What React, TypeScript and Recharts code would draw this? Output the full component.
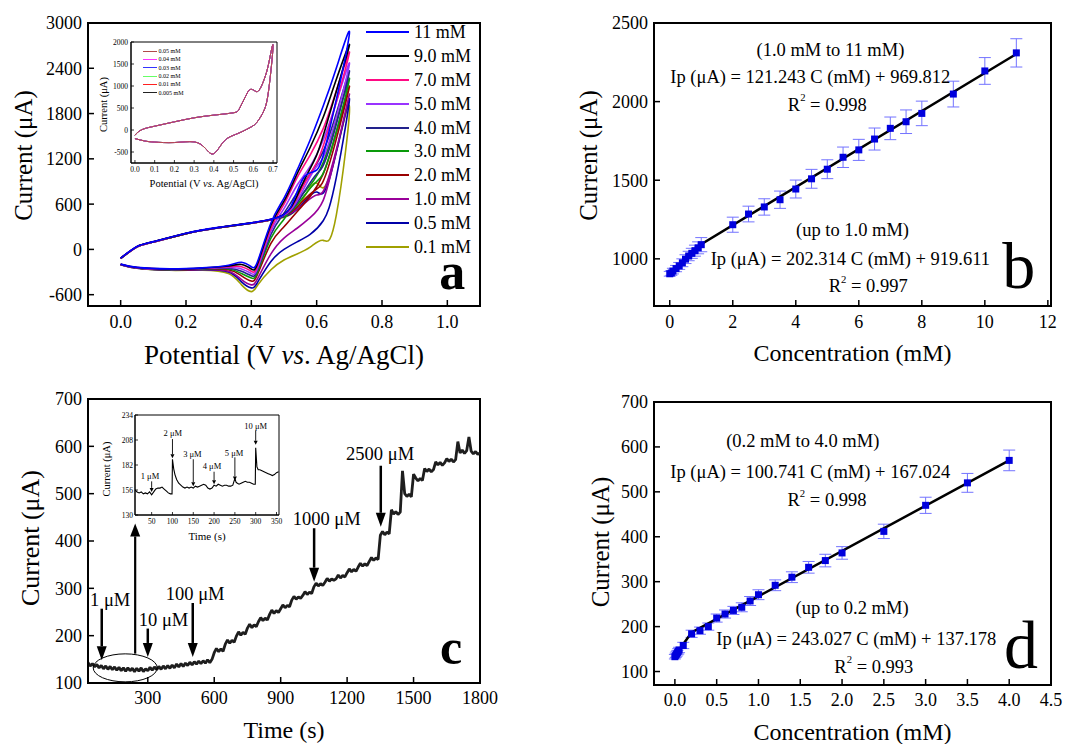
import React from 'react';
import {
  LineChart,
  ComposedChart,
  Line,
  Scatter,
  XAxis,
  YAxis,
  ErrorBar,
  ReferenceArea,
  ReferenceLine,
  ReferenceDot,
  Legend,
  Label,
} from 'recharts';

const FONT = '"Liberation Serif", "Times New Roman", Times, serif';

// ---------------- Panel a : cyclic voltammograms ----------------
const aPotential = [0, 0.05, 0.1, 0.2, 0.3, 0.4, 0.47, 0.52, 0.56, 0.6, 0.64, 0.7, 0.66, 0.62, 0.58, 0.54, 0.5, 0.46, 0.42, 0.4, 0.37, 0.33, 0.25, 0.15, 0.05, 0];
const aLabels = ['11 mM', '9.0 mM', '7.0 mM', '5.0 mM', '4.0 mM', '3.0 mM', '2.0 mM', '1.0 mM', '0.5 mM', '0.1 mM'];
const aColors = ['#0000ff', '#000000', '#ff0a84', '#9933ff', '#22228c', '#0a9a0a', '#990000', '#990099', '#0000a8', '#a0a000'];
const aCurrent11 = [-115, 38, 103, 213, 292, 352, 410, 560, 950, 1050, 1600, 2850, 2400, 1900, 1450, 1050, 680, 350, -150, -230, -170, -210, -245, -258, -238, -195];
const aCurrent9 = [-116, 37, 102, 212, 291, 351, 410, 550, 900, 1250, 1800, 2700, 2250, 1750, 1350, 1000, 640, 320, -180, -260, -200, -220, -248, -260, -240, -197];
const aCurrent7 = [-117, 36, 101, 211, 290, 350, 408, 540, 850, 1150, 1650, 2600, 2100, 1600, 1250, 950, 600, 280, -210, -290, -230, -230, -250, -262, -242, -198];
const aCurrent5 = [-118, 35, 100, 210, 289, 349, 406, 520, 800, 1100, 1450, 2450, 1950, 1450, 1100, 850, 540, 240, -240, -320, -260, -240, -252, -264, -243, -199];
const aCurrent4 = [-118, 35, 100, 210, 289, 349, 405, 510, 750, 1000, 1350, 2350, 1800, 1300, 1000, 750, 480, 200, -260, -350, -290, -250, -255, -266, -244, -200];
const aCurrent3 = [-119, 34, 99, 209, 288, 348, 404, 500, 700, 900, 1250, 2250, 1700, 1150, 850, 650, 400, 150, -290, -380, -320, -260, -258, -268, -245, -200];
const aCurrent2 = [-119, 34, 99, 209, 288, 348, 403, 490, 650, 800, 1150, 2150, 1550, 1000, 700, 500, 300, 80, -320, -420, -350, -270, -262, -270, -246, -201];
const aCurrent1 = [-120, 33, 98, 208, 287, 347, 402, 480, 600, 720, 1000, 2050, 1300, 650, 420, 280, 150, -60, -380, -470, -400, -290, -266, -272, -247, -202];
const aCurrent05 = [-120, 33, 98, 208, 287, 347, 401, 470, 620, 760, 950, 2000, 950, 380, 200, 100, 0, -160, -430, -510, -430, -300, -270, -274, -248, -202];
const aCurrent01 = [-121, 32, 97, 207, 286, 346, 400, 460, 680, 880, 980, 1900, 450, 120, 30, -60, -140, -270, -470, -560, -470, -320, -275, -277, -250, -203];
const aCurrents = [aCurrent11, aCurrent9, aCurrent7, aCurrent5, aCurrent4, aCurrent3, aCurrent2, aCurrent1, aCurrent05, aCurrent01];
const aXTicks = [0, 0.2, 0.4, 0.6, 0.8, 1.0];
const aYTicks = [-600, 0, 600, 1200, 1800, 2400, 3000];

// inset of panel a (low concentrations, curves overlap)
const aInsetPotential = [0, 0.02, 0.05, 0.1, 0.2, 0.3, 0.4, 0.5, 0.53, 0.56, 0.58, 0.6, 0.62, 0.64, 0.66, 0.68, 0.7, 0.68, 0.655, 0.62, 0.59, 0.54, 0.5, 0.46, 0.43, 0.41, 0.39, 0.37, 0.35, 0.3, 0.2, 0.1, 0.05, 0];
const aInsetCurrent = [-119, -30, 33, 87, 186, 277, 338, 392, 491, 758, 910, 910, 872, 986, 1215, 1558, 1916, 986, 453, 186, 72, -43, -119, -218, -380, -500, -545, -480, -386, -270, -285, -275, -250, -195];
const aInsetLabels = ['0.05 mM', '0.04 mM', '0.03 mM', '0.02 mM', '0.01 mM', '0.005 mM'];
const aInsetColors = ['#b04a4a', '#ff33ff', '#3333ff', '#66ff66', '#ff2020', '#222222'];
const aInsetXTicks = [0, 0.1, 0.2, 0.3, 0.4, 0.5, 0.6, 0.7];
const aInsetYTicks = [-500, 0, 500, 1000, 1500, 2000];

// ---------------- Panel b : calibration (CV) ----------------
const bConc = [0, 0.05, 0.1, 0.2, 0.3, 0.4, 0.5, 0.6, 0.7, 0.8, 0.9, 1.0, 2.0, 2.5, 3.0, 3.5, 4.0, 4.5, 5.0, 5.5, 6.0, 6.5, 7.0, 7.5, 8.0, 9.0, 10.0, 11.0];
const bCurrent = [905, 910, 922, 938, 955, 975, 998, 1018, 1035, 1052, 1070, 1090, 1217, 1285, 1330, 1376, 1444, 1509, 1570, 1646, 1693, 1762, 1830, 1872, 1925, 2048, 2195, 2310];
const bError = [15, 15, 18, 20, 22, 25, 28, 30, 32, 35, 38, 45, 48, 50, 52, 55, 57, 60, 60, 65, 67, 70, 72, 75, 78, 82, 85, 90];
const bFitConc = [0, 1.0, 11.0];
const bFitCurrent = [905, 1093, 2303];
const bXTicks = [0, 2, 4, 6, 8, 10, 12];
const bYTicks = [1000, 1500, 2000, 2500];

// ---------------- Panel c : amperometric response ----------------
const cStartTime = 30;
const cSampleStep = 10;
const cCurrent = [
  143, 136,
  141, 134, 139, 132, 137,
  130, 136, 129, 135, 128,
  134, 127, 133, 126, 132,
  125, 132, 126, 131, 124,
  131, 125, 132, 124, 130,
  126, 133, 127, 134, 128,
  135, 129, 136, 130, 137,
  131, 138, 132, 140, 134,
  141, 135, 142, 137, 144,
  138, 145, 140, 146, 141,
  147, 142, 149, 143, 150,
  164, 173, 166, 172, 167,
  182, 191, 184, 190, 186,
  199, 208, 201, 207, 203,
  216, 224, 217, 223, 219,
  230, 238, 232, 237, 233,
  245, 254, 247, 253, 249,
  257, 265, 259, 264, 261,
  275, 283, 277, 282, 279,
  285, 293, 287, 292, 289,
  303, 311, 305, 310, 306,
  313, 321, 315, 320, 317,
  320, 328, 322, 327, 324,
  333, 341, 335, 340, 336,
  345, 353, 347, 352, 348,
  357, 365, 359, 364, 361,
  412, 420, 413, 419, 415,
  466, 457, 462, 456, 461,
  548, 500, 494, 499, 493,
  541, 533, 527, 532, 528,
  553, 547, 552, 546, 551,
  567, 561, 566, 560, 565,
  574, 568, 573, 567, 572,
  610, 586, 592, 585, 591,
  620, 590, 584, 589, 583,
  586,
];
const cXTicks = [300, 600, 900, 1200, 1500, 1800];
const cYTicks = [100, 200, 300, 400, 500, 600, 700];
const cArrowLabels = ['1 μM', '10 μM', '100 μM', '1000 μM', '2500 μM'];
const cArrowTime = [92, 300, 503, 1051, 1352];
const cArrowFrom = [257, 215, 269, 427, 559];
const cArrowTo = [148, 155, 155, 314, 430];
const cLabelTime = [130, 371, 514, 1108, 1349];
const cLabelCurrent = [275, 233, 289, 446, 584];

// inset of panel c
const cInsetTime = [10, 15, 20, 25, 30, 35, 40, 45, 50, 55, 60, 65, 70, 75, 80, 85, 90, 95, 99, 100, 103, 106, 110, 115, 120, 125, 130, 135, 140, 145, 150, 155, 160, 165, 170, 175, 180, 185, 190, 195, 200, 205, 210, 215, 220, 225, 230, 235, 240, 245, 250, 253, 256, 260, 265, 270, 275, 280, 285, 290, 295, 299, 300, 303, 306, 310, 315, 320, 325, 330, 335, 340, 345, 350, 355];
const cInsetCurrent = [156, 154, 153, 154, 152, 153, 152, 154, 151, 154, 157, 158, 158, 159, 157, 155, 153, 152, 152, 188, 178, 172, 167, 163, 161, 159, 158, 159, 158, 159, 158, 160, 159, 160, 161, 162, 161, 158, 157, 158, 161, 160, 162, 161, 160, 161, 161, 160, 160, 161, 168, 164, 163, 162, 163, 164, 165, 164, 164, 163, 162, 162, 200, 180, 177, 177, 176, 175, 174, 173, 172, 171, 172, 174, 175];
const cInsetXTicks = [50, 100, 150, 200, 250, 300, 350];
const cInsetYTicks = [130, 156, 182, 208, 234];
const cInsetArrowLabels = ['1 μM', '2 μM', '3 μM', '4 μM', '5 μM', '10 μM'];
const cInsetArrowTime = [50, 100, 150, 200, 250, 300];
const cInsetArrowFrom = [165, 209, 188, 175, 190, 218];
const cInsetArrowTo = [154, 189, 160, 162, 166, 203];
const cInsetLabelTime = [46, 101, 148, 195, 248, 300];
const cInsetLabelCurrent = [171, 215, 193, 181, 195, 223];

// ---------------- Panel d : calibration (amperometry) ----------------
const dConc = [0, 0.01, 0.02, 0.03, 0.04, 0.05, 0.1, 0.2, 0.3, 0.4, 0.5, 0.6, 0.7, 0.8, 0.9, 1.0, 1.2, 1.4, 1.6, 1.8, 2.0, 2.5, 3.0, 3.5, 4.0];
const dCurrent = [133, 136, 139, 142, 145, 148, 158, 184, 191, 200, 219, 228, 236, 243, 257, 271, 292, 310, 332, 347, 364, 412, 470, 520, 570];
const dError = [5, 5, 5, 5, 6, 6, 7, 8, 8, 8, 9, 9, 9, 10, 10, 11, 12, 12, 13, 14, 14, 16, 18, 21, 23];
const dFitConc = [0, 0.2, 4.0];
const dFitCurrent = [135, 187, 570];
const dXTicks = [0, 0.5, 1.0, 1.5, 2.0, 2.5, 3.0, 3.5, 4.0, 4.5];
const dYTicks = [100, 200, 300, 400, 500, 600, 700];

// ---------------- helpers ----------------
type Seg = { t: string; it?: boolean; sup?: boolean };

const AXIS = { stroke: '#000', strokeWidth: 2 };
const TICK = { stroke: '#000', strokeWidth: 1.5 };
const tickFont = (size: number) => ({ fill: '#000', fontSize: size, fontFamily: FONT });
const fix1 = (v: number) => v.toFixed(1);

function renderSegs(segs: Seg[], size: number) {
  return segs.map((s, i) => {
    const prevSup = i > 0 && segs[i - 1].sup;
    const dy = s.sup ? -0.42 * size : prevSup ? 0.42 * size : 0;
    return (
      <tspan
        key={i}
        dy={dy === 0 ? undefined : dy}
        fontStyle={s.it ? 'italic' : undefined}
        fontSize={s.sup ? size * 0.58 : undefined}
      >
        {s.t}
      </tspan>
    );
  });
}

function xTitle(p: any, segs: Seg[], size: number, dy: number) {
  const vb = p.viewBox || { x: 0, y: 0, width: 0, height: 0 };
  return (
    <text
      x={vb.x + vb.width / 2}
      y={vb.y + dy}
      textAnchor="middle"
      dominantBaseline="central"
      fontFamily={FONT}
      fontSize={size}
      fill="#000"
      style={{ whiteSpace: 'pre' }}
    >
      {renderSegs(segs, size)}
    </text>
  );
}

function yTitle(p: any, text: string, size: number, cx: number, dy: number) {
  const vb = p.viewBox || { x: 0, y: 0, width: 0, height: 0 };
  const x = vb.x + cx;
  const y = vb.y + vb.height / 2 + dy;
  return (
    <text
      x={x}
      y={y}
      transform={`rotate(-90 ${x} ${y})`}
      textAnchor="middle"
      dominantBaseline="central"
      fontFamily={FONT}
      fontSize={size}
      fill="#000"
    >
      {text}
    </text>
  );
}

function note(key: string, x: number, y: number, segs: Seg[], size: number, weight = 'normal', baseline = 'central') {
  return (
    <ReferenceDot
      key={key}
      x={x}
      y={y}
      r={1}
      ifOverflow="visible"
      shape={(p: any) => (
        <text
          x={p.cx}
          y={p.cy}
          textAnchor="middle"
          dominantBaseline={baseline}
          fontFamily={FONT}
          fontSize={size}
          fontWeight={weight}
          fill="#000"
          style={{ whiteSpace: 'pre' }}
        >
          {renderSegs(segs, size)}
        </text>
      )}
    />
  );
}

function arrowShape(width: number, headW: number, headL: number) {
  return (p: any) => {
    const { x1, y1, x2, y2 } = p;
    const dx = x2 - x1;
    const dy = y2 - y1;
    const len = Math.hypot(dx, dy) || 1;
    const ux = dx / len;
    const uy = dy / len;
    const bx = x2 - ux * headL;
    const by = y2 - uy * headL;
    return (
      <g>
        <line x1={x1} y1={y1} x2={bx} y2={by} stroke="#000" strokeWidth={width} />
        <polygon
          points={`${x2},${y2} ${bx - uy * headW},${by + ux * headW} ${bx + uy * headW},${by - ux * headW}`}
          fill="#000"
        />
      </g>
    );
  };
}

function arrow(key: string, x: number, yFrom: number, yTo: number, width: number, headW: number, headL: number) {
  return (
    <ReferenceLine
      key={key}
      segment={[{ x, y: yFrom }, { x, y: yTo }]}
      ifOverflow="visible"
      stroke="#000"
      shape={arrowShape(width, headW, headL)}
    />
  );
}

function LegendBox(props: { labels: string[]; colors: string[]; size: number; row: number; lineW: number; gap: number; thick: number }) {
  const { labels, colors, size, row, lineW, gap, thick } = props;
  return (
    <div style={{ fontFamily: FONT, fontSize: size, color: '#000' }}>
      {labels.map((l, i) => (
        <div key={l} style={{ display: 'flex', alignItems: 'center', height: row }}>
          <div style={{ width: lineW, height: thick, background: colors[i], flex: 'none' }} />
          <span style={{ marginLeft: gap, lineHeight: `${size}px`, whiteSpace: 'nowrap' }}>{l}</span>
        </div>
      ))}
    </div>
  );
}

const toXY = (xs: number[], ys: number[]) => xs.map((x, i) => ({ x, y: ys[i] }));

// ---------------- Panels ----------------
function PanelA() {
  const series = aCurrents.map((ys) => toXY(aPotential, ys));
  const order = [9, 8, 7, 6, 5, 4, 3, 2, 1, 0];
  return (
    <div style={{ position: 'absolute', left: 0, top: 0 }}>
      <LineChart width={540} height={380} margin={{ top: 23, right: 60, bottom: 0, left: 0 }}>
        <XAxis
          type="number"
          dataKey="x"
          domain={[-0.1, 1.1]}
          ticks={aXTicks}
          interval={0}
          allowDataOverflow
          tickFormatter={fix1}
          height={74}
          axisLine={AXIS}
          tickLine={TICK}
          tickSize={-6}
          tickMargin={15.5}
          tick={tickFont(18)}
        >
          <Label
            content={(p: any) =>
              xTitle(p, [{ t: 'Potential (V ' }, { t: 'vs', it: true }, { t: '. Ag/AgCl)' }], 27, 49)
            }
          />
        </XAxis>
        <YAxis
          type="number"
          domain={[-750, 3000]}
          ticks={aYTicks}
          interval={0}
          allowDataOverflow
          width={88}
          axisLine={AXIS}
          tickLine={TICK}
          tickSize={-6}
          tickMargin={12}
          tick={tickFont(18)}
        >
          <Label content={(p: any) => yTitle(p, 'Current (μA)', 25, 23, -9)} />
        </YAxis>
        <ReferenceArea x1={-0.1} x2={1.1} y1={-750} y2={3000} fill="none" stroke="#000" strokeWidth={2} ifOverflow="visible" />
        {order.map((i) => (
          <Line
            key={aLabels[i]}
            data={series[i]}
            dataKey="y"
            name={aLabels[i]}
            type="natural"
            stroke={aColors[i]}
            strokeWidth={1.6}
            dot={false}
            activeDot={false}
            isAnimationActive={false}
          />
        ))}
        <Legend
          layout="vertical"
          align="center"
          verticalAlign="middle"
          wrapperStyle={{ left: 366, top: 20, width: 120 }}
          content={() => <LegendBox labels={aLabels} colors={aColors} size={18} row={23.9} lineW={43} gap={5} thick={2} />}
        />
        {note('letter-a', 1.015, -530, [{ t: 'a' }], 52, 'bold', 'alphabetic')}
      </LineChart>
    </div>
  );
}

function InsetA() {
  const data = toXY(aInsetPotential, aInsetCurrent);
  const order = [5, 4, 3, 2, 1, 0];
  return (
    <div style={{ position: 'absolute', left: 95, top: 35 }}>
      <LineChart width={190} height={160} margin={{ top: 7, right: 8, bottom: 0, left: 0 }}>
        <XAxis
          type="number"
          dataKey="x"
          domain={[-0.02, 0.72]}
          ticks={aInsetXTicks}
          interval={0}
          allowDataOverflow
          tickFormatter={fix1}
          height={32}
          axisLine={{ stroke: '#000', strokeWidth: 1 }}
          tickLine={{ stroke: '#000', strokeWidth: 0.8 }}
          tickSize={-3}
          tickMargin={7}
          tick={tickFont(7.5)}
        >
          <Label
            content={(p: any) =>
              xTitle(p, [{ t: 'Potential (V ' }, { t: 'vs', it: true }, { t: '. Ag/AgCl)' }], 10.5, 20)
            }
          />
        </XAxis>
        <YAxis
          type="number"
          domain={[-750, 2000]}
          ticks={aInsetYTicks}
          interval={0}
          allowDataOverflow
          width={36}
          axisLine={{ stroke: '#000', strokeWidth: 1 }}
          tickLine={{ stroke: '#000', strokeWidth: 0.8 }}
          tickSize={-3}
          tickMargin={6}
          tick={tickFont(7.5)}
        >
          <Label content={(p: any) => yTitle(p, 'Current (μA)', 10.5, 8, 2)} />
        </YAxis>
        <ReferenceArea x1={-0.02} x2={0.72} y1={-750} y2={2000} fill="none" stroke="#000" strokeWidth={1} ifOverflow="visible" />
        {order.map((i) => (
          <Line
            key={aInsetLabels[i]}
            data={data}
            dataKey="y"
            name={aInsetLabels[i]}
            type="natural"
            stroke={aInsetColors[i]}
            strokeWidth={1}
            dot={false}
            activeDot={false}
            isAnimationActive={false}
          />
        ))}
        <Legend
          layout="vertical"
          align="center"
          verticalAlign="middle"
          wrapperStyle={{ left: 48, top: 12, width: 60 }}
          content={() => <LegendBox labels={aInsetLabels} colors={aInsetColors} size={6} row={8.3} lineW={14} gap={1.5} thick={1} />}
        />
      </LineChart>
    </div>
  );
}

function squareShape(p: any) {
  return <rect x={p.cx - 3.5} y={p.cy - 3.5} width={7} height={7} fill="#0000dd" />;
}

function PanelB() {
  const data = bConc.map((x, i) => ({ x, y: bCurrent[i], err: bError[i] }));
  const fit = toXY(bFitConc, bFitCurrent);
  const fs = 18.5;
  return (
    <div style={{ position: 'absolute', left: 540, top: 0 }}>
      <ComposedChart width={534} height={380} margin={{ top: 23, right: 23, bottom: 0, left: 0 }}>
        <XAxis
          type="number"
          dataKey="x"
          domain={[-0.5, 12.1]}
          ticks={bXTicks}
          interval={0}
          allowDataOverflow
          height={74}
          axisLine={AXIS}
          tickLine={TICK}
          tickSize={-6}
          tickMargin={15.5}
          tick={tickFont(18)}
        >
          <Label content={(p: any) => xTitle(p, [{ t: 'Concentration (mM)' }], 24, 47)} />
        </XAxis>
        <YAxis
          type="number"
          domain={[700, 2500]}
          ticks={bYTicks}
          interval={0}
          allowDataOverflow
          width={114}
          axisLine={AXIS}
          tickLine={TICK}
          tickSize={-6}
          tickMargin={12}
          tick={tickFont(18)}
        >
          <Label content={(p: any) => yTitle(p, 'Current (μA)', 25, 48, -9)} />
        </YAxis>
        <ReferenceArea x1={-0.5} x2={12.1} y1={700} y2={2500} fill="none" stroke="#000" strokeWidth={2} ifOverflow="visible" />
        <Scatter data={data} dataKey="y" shape={squareShape} isAnimationActive={false}>
          <ErrorBar dataKey="err" direction="y" width={6} stroke="#7373ff" strokeWidth={1} />
        </Scatter>
        <Line data={fit} dataKey="y" type="linear" stroke="#000" strokeWidth={2.5} dot={false} activeDot={false} isAnimationActive={false} />
        {note('b1', 5.1, 2326, [{ t: '(1.0 mM to 11 mM)' }], fs)}
        {note('b2', 4.46, 2155, [{ t: 'Ip (μA) = 121.243 C (mM) + 969.812' }], fs)}
        {note('b3', 5.0, 1978, [{ t: 'R' }, { t: '2', sup: true }, { t: ' = 0.998' }], fs)}
        {note('b4', 5.8, 1186, [{ t: '(up to 1.0 mM)' }], fs)}
        {note('b5', 5.73, 996, [{ t: 'Ip (μA) = 202.314 C (mM) + 919.611' }], fs)}
        {note('b6', 6.3, 825, [{ t: 'R' }, { t: '2', sup: true }, { t: ' = 0.997' }], fs)}
        {note('letter-b', 11.08, 816, [{ t: 'b' }], 66, 'normal', 'alphabetic')}
      </ComposedChart>
    </div>
  );
}

function PanelC() {
  const data = cCurrent.map((y, i) => ({ x: cStartTime + i * cSampleStep, y }));
  return (
    <div style={{ position: 'absolute', left: 0, top: 380 }}>
      <LineChart width={540} height={364} margin={{ top: 19, right: 60, bottom: 0, left: 0 }}>
        <XAxis
          type="number"
          dataKey="x"
          domain={[30, 1800]}
          ticks={cXTicks}
          interval={0}
          allowDataOverflow
          height={61}
          axisLine={AXIS}
          tickLine={TICK}
          tickSize={-6}
          tickMargin={14.5}
          tick={tickFont(18)}
        >
          <Label content={(p: any) => xTitle(p, [{ t: 'Time (s)' }], 24, 47)} />
        </XAxis>
        <YAxis
          type="number"
          domain={[100, 700]}
          ticks={cYTicks}
          interval={0}
          allowDataOverflow
          width={88}
          axisLine={AXIS}
          tickLine={TICK}
          tickSize={-6}
          tickMargin={12}
          tick={tickFont(18)}
        >
          <Label content={(p: any) => yTitle(p, 'Current (μA)', 26, 30, -3)} />
        </YAxis>
        <ReferenceArea x1={30} x2={1800} y1={100} y2={700} fill="none" stroke="#000" strokeWidth={2} ifOverflow="visible" />
        <Line data={data} dataKey="y" type="linear" stroke="#1e1e1e" strokeWidth={2.8} strokeLinejoin="bevel" dot={false} activeDot={false} isAnimationActive={false} />
        <ReferenceDot
          x={198}
          y={132}
          r={1}
          ifOverflow="visible"
          shape={(p: any) => <ellipse cx={p.cx} cy={p.cy} rx={32} ry={14} fill="none" stroke="#000" strokeWidth={1} />}
        />
        {arrow('c-big', 243, 162, 437, 2.2, 5, 13)}
        {cArrowLabels.map((l, i) => arrow(`ca${i}`, cArrowTime[i], cArrowFrom[i], cArrowTo[i], 2.5, 5, 14))}
        {cArrowLabels.map((l, i) => note(`cl${i}`, cLabelTime[i], cLabelCurrent[i], [{ t: l }], 18.5))}
        {note('letter-c', 1669, 140, [{ t: 'c' }], 50, 'bold', 'alphabetic')}
      </LineChart>
    </div>
  );
}

function InsetC() {
  const data = toXY(cInsetTime, cInsetCurrent);
  return (
    <div style={{ position: 'absolute', left: 95, top: 405 }}>
      <LineChart width={190} height={142} margin={{ top: 10, right: 6, bottom: 0, left: 0 }}>
        <XAxis
          type="number"
          dataKey="x"
          domain={[10, 356]}
          ticks={cInsetXTicks}
          interval={0}
          allowDataOverflow
          height={32}
          axisLine={{ stroke: '#000', strokeWidth: 1 }}
          tickLine={{ stroke: '#000', strokeWidth: 0.8 }}
          tickSize={-3}
          tickMargin={6.5}
          tick={tickFont(7.5)}
        >
          <Label content={(p: any) => xTitle(p, [{ t: 'Time (s)' }], 11, 21)} />
        </XAxis>
        <YAxis
          type="number"
          domain={[130, 234]}
          ticks={cInsetYTicks}
          interval={0}
          allowDataOverflow
          width={40}
          axisLine={{ stroke: '#000', strokeWidth: 1 }}
          tickLine={{ stroke: '#000', strokeWidth: 0.8 }}
          tickSize={-3}
          tickMargin={5}
          tick={tickFont(7.5)}
        >
          <Label content={(p: any) => yTitle(p, 'Current (μA)', 10.5, 11, 4)} />
        </YAxis>
        <ReferenceArea x1={10} x2={356} y1={130} y2={234} fill="none" stroke="#000" strokeWidth={1} ifOverflow="visible" />
        <Line data={data} dataKey="y" type="linear" stroke="#000" strokeWidth={1.1} dot={false} activeDot={false} isAnimationActive={false} />
        {cInsetArrowLabels.map((l, i) => arrow(`cia${i}`, cInsetArrowTime[i], cInsetArrowFrom[i], cInsetArrowTo[i], 0.9, 2, 4))}
        {cInsetArrowLabels.map((l, i) => note(`cil${i}`, cInsetLabelTime[i], cInsetLabelCurrent[i], [{ t: l }], 8.5))}
      </LineChart>
    </div>
  );
}

function PanelD() {
  const data = dConc.map((x, i) => ({ x, y: dCurrent[i], err: dError[i] }));
  const fit = toXY(dFitConc, dFitCurrent);
  const fs = 18.5;
  return (
    <div style={{ position: 'absolute', left: 540, top: 380 }}>
      <ComposedChart width={534} height={364} margin={{ top: 22, right: 23, bottom: 0, left: 0 }}>
        <XAxis
          type="number"
          dataKey="x"
          domain={[-0.25, 4.5]}
          ticks={dXTicks}
          interval={0}
          allowDataOverflow
          tickFormatter={fix1}
          height={59}
          axisLine={AXIS}
          tickLine={TICK}
          tickSize={-6}
          tickMargin={14.5}
          tick={tickFont(18)}
        >
          <Label content={(p: any) => xTitle(p, [{ t: 'Concentration (mM)' }], 24, 47)} />
        </XAxis>
        <YAxis
          type="number"
          domain={[70, 700]}
          ticks={dYTicks}
          interval={0}
          allowDataOverflow
          width={114}
          axisLine={AXIS}
          tickLine={TICK}
          tickSize={-6}
          tickMargin={12}
          tick={tickFont(18)}
        >
          <Label content={(p: any) => yTitle(p, 'Current (μA)', 25, 60, -1.5)} />
        </YAxis>
        <ReferenceArea x1={-0.25} x2={4.5} y1={70} y2={700} fill="none" stroke="#000" strokeWidth={2} ifOverflow="visible" />
        <Scatter data={data} dataKey="y" shape={squareShape} isAnimationActive={false}>
          <ErrorBar dataKey="err" direction="y" width={6} stroke="#7373ff" strokeWidth={1} />
        </Scatter>
        <Line data={fit} dataKey="y" type="linear" stroke="#000" strokeWidth={2.5} dot={false} activeDot={false} isAnimationActive={false} />
        {note('d1', 1.53, 613, [{ t: '(0.2 mM to 4.0 mM)' }], fs)}
        {note('d2', 1.62, 544, [{ t: 'Ip (μA) = 100.741 C (mM) + 167.024' }], fs)}
        {note('d3', 1.82, 481, [{ t: 'R' }, { t: '2', sup: true }, { t: ' = 0.998' }], fs)}
        {note('d4', 2.12, 242, [{ t: '(up to 0.2 mM)' }], fs)}
        {note('d5', 2.17, 173, [{ t: 'Ip (μA) = 243.027 C (mM) + 137.178' }], fs)}
        {note('d6', 2.38, 111, [{ t: 'R' }, { t: '2', sup: true }, { t: ' = 0.993' }], fs)}
        {note('letter-d', 4.14, 108, [{ t: 'd' }], 68, 'normal', 'alphabetic')}
      </ComposedChart>
    </div>
  );
}

export default function App() {
  return (
    <div
      style={{
        position: 'absolute',
        left: 0,
        top: 0,
        width: 1074,
        height: 744,
        background: '#fff',
        overflow: 'hidden',
        fontFamily: FONT,
      }}
    >
      <PanelA />
      <InsetA />
      <PanelB />
      <PanelC />
      <InsetC />
      <PanelD />
    </div>
  );
}
